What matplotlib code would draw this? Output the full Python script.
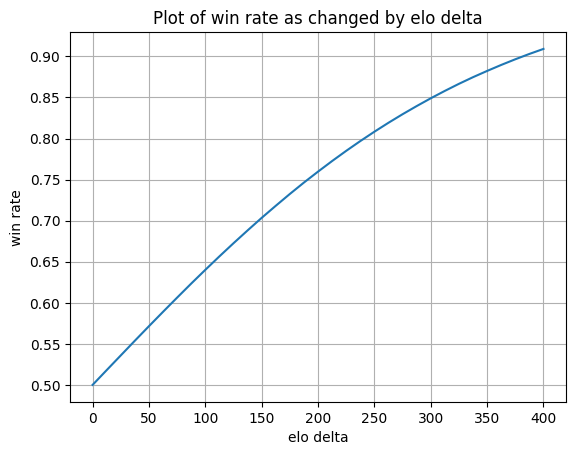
import matplotlib
matplotlib.use("Agg")
import matplotlib.pyplot as plt
from matplotlib.ticker import MultipleLocator, FormatStrFormatter

# Values
elo_delta = [0, 12.5, 25, 37.5, 50, 62.5, 75, 87.5, 100, 112.5, 125, 137.5, 150, 162.5,
             175, 187.5, 200, 212.5, 225, 237.5, 250, 262.5, 275, 287.5, 300, 312.5,
             325, 337.5, 350, 362.5, 375, 387.5, 400]
win_rate = [0.5000, 0.5180, 0.5359, 0.5538, 0.5715, 0.5890, 0.6063, 0.6234, 0.6401,
            0.6565, 0.6725, 0.6881, 0.7034, 0.7181, 0.7325, 0.7464, 0.7597, 0.7726,
            0.7850, 0.7969, 0.8083, 0.8192, 0.8296, 0.8395, 0.8490, 0.8580, 0.8666,
            0.8747, 0.8823, 0.8896, 0.8965, 0.9030, 0.9091]

fig, ax = plt.subplots()
ax.plot(elo_delta, win_rate)
ax.set_xlabel('elo delta')
ax.set_ylabel('win rate')
ax.set_title('Plot of win rate as changed by elo delta')
ax.yaxis.set_major_locator(MultipleLocator(0.05))
ax.yaxis.set_major_formatter(FormatStrFormatter('%.2f'))
ax.grid(True)

fig.savefig('out.png', dpi=100, bbox_inches='tight')
